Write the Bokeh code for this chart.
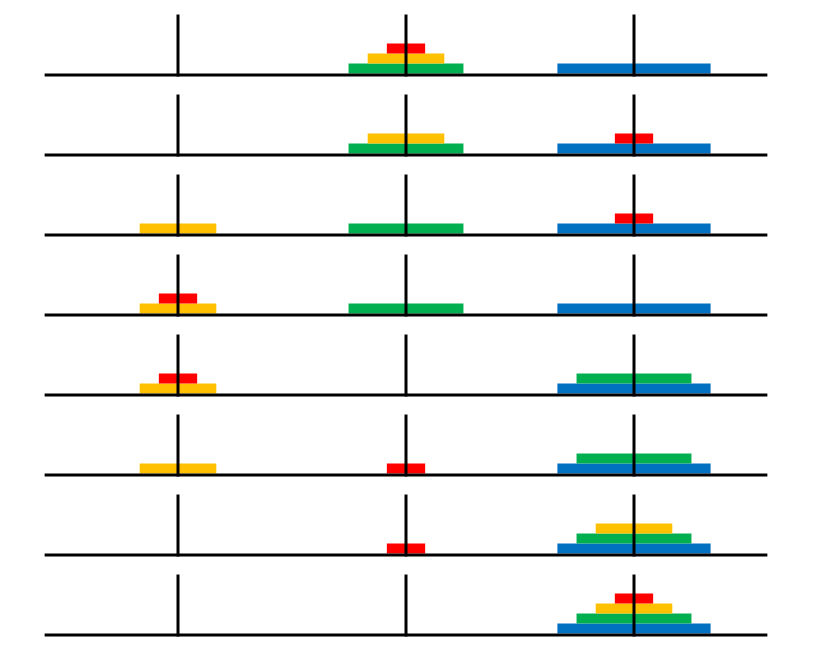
from bokeh.plotting import figure
from bokeh.models import Range1d, ColumnDataSource
from bokeh.embed import file_html
from bokeh.resources import INLINE

# Tower of Hanoi states, one per row (disk sizes bottom -> top)
# 1 = red, 2 = yellow, 3 = green, 4 = blue
peg_a = [[], [], [2], [2, 1], [2, 1], [2], [], []]
peg_b = [[3, 2, 1], [3, 2], [3], [3], [], [1], [1], []]
peg_c = [[4], [4, 1], [4, 1], [4], [4, 3], [4, 3], [4, 3, 2], [4, 3, 2, 1]]
disk_colors = {1: "#FF0000", 2: "#FFC000", 3: "#00B050", 4: "#0070C0"}

# layout constants (peg units horizontally, disk-height units vertically)
unit_w = 0.168
row_gap = 8.0
pole_h = 5.9
base_left, base_right = -0.585, 2.585

p = figure(width=826, height=643, output_backend="svg", toolbar_location=None,
           x_axis_type=None, y_axis_type=None, min_border=0,
           x_range=Range1d(-0.7785, 2.8443), y_range=Range1d(-57.0, 7.3))
p.grid.visible = False
p.outline_line_color = None
p.background_fill_color = "white"
p.border_fill_color = "white"

left, right, bottom, top, color = [], [], [], [], []
for r in range(len(peg_a)):
    base = -row_gap * r
    for pi, peg in enumerate([peg_a[r], peg_b[r], peg_c[r]]):
        for lvl, d in enumerate(peg):
            hw = d * unit_w / 2
            left.append(pi - hw)
            right.append(pi + hw)
            bottom.append(base + lvl)
            top.append(base + lvl + 1)
            color.append(disk_colors[d])

p.quad(left="left", right="right", bottom="bottom", top="top", color="color",
       line_color=None,
       source=ColumnDataSource(dict(left=left, right=right, bottom=bottom, top=top, color=color)))

# baselines and poles
bx0, bx1, by0, by1 = [], [], [], []
for r in range(len(peg_a)):
    base = -row_gap * r
    bx0.append(base_left); bx1.append(base_right)
    by0.append(base - 0.15); by1.append(base - 0.15)
    for pi in range(3):
        bx0.append(pi); bx1.append(pi)
        by0.append(base - 0.3); by1.append(base + pole_h)

p.segment(x0=bx0, y0=by0, x1=bx1, y1=by1, line_color="black", line_width=3,
          line_cap="butt")

open("out.html", "w").write(file_html(p, INLINE))
